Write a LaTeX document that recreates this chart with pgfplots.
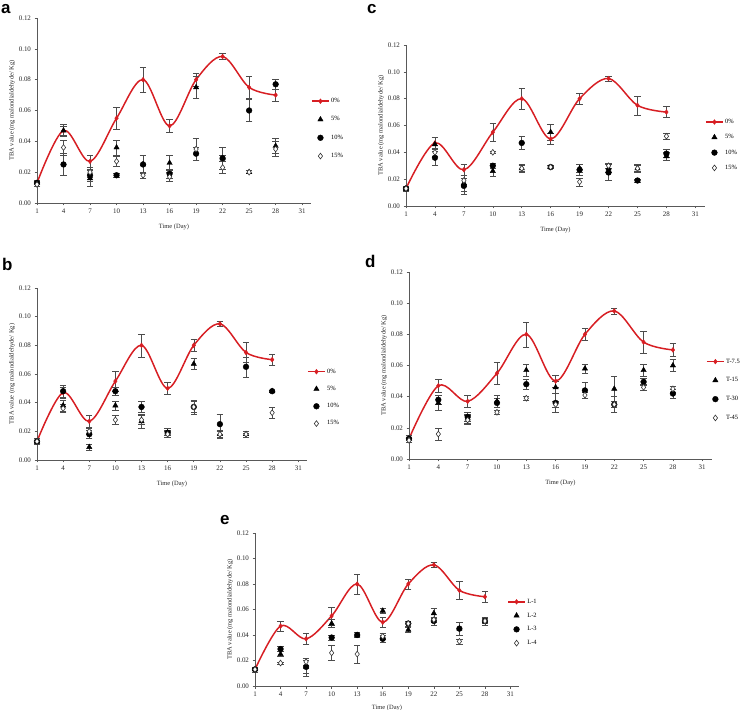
\documentclass[border=0pt]{standalone}
\usepackage{fontspec}
\setmainfont{Liberation Serif}
\newfontfamily\labfont{Liberation Sans}
\usepackage{pgfplots}
\usepackage{pgfplotstable}
\pgfplotsset{compat=1.18}
\definecolor{myred}{RGB}{215,30,35}

% columns: day, red (0%), triangle, circle, open diamond, with errors
\pgfplotstableread{
d  r     re    t     te    c      ce    w     we
1  0.013 0.002 0.013 0.001 0.013  0.001 0.012 0.001
4  0.047 0.004 0.047 0.003 0.025  0.007 0.036 0.005
7  0.027 0.004 0.016 0.005 0.018  0.004 0.020 0.003
10 0.055 0.007 0.036 0.005 0.018  0.001 0.027 0.003
13 0.080 0.008 0.025 0.006 0.025  0.006 0.018 0.002
16 0.050 0.004 0.026 0.005 0.019  0.003 0.017 0.003
19 0.080 0.004 0.075 0.007 0.032  0.004 0.035 0.007
22 0.095 0.002 0.029 0.007 0.029  0.002 0.023 0.004
25 0.075 0.007 0.020 0.001 0.060  0.007 0.020 0.001
28 0.070 0.004 0.037 0.005 0.077  0.003 0.035 0.005
}\tA
\pgfplotstableread{
d  r     re    t     te    c      ce    w     we
1  0.013 0.002 0.013 0.001 0.013  0.001 0.013 0.001
4  0.047 0.004 0.038 0.004 0.048  0.004 0.036 0.003
7  0.027 0.004 0.009 0.002 0.018  0.003 0.020 0.002
10 0.055 0.007 0.038 0.003 0.048  0.003 0.028 0.003
13 0.080 0.008 0.027 0.005 0.037  0.004 0.028 0.003
16 0.050 0.004 0.019 0.002 0.019  0.003 0.018 0.002
19 0.080 0.004 0.067 0.004 0.037  0.005 0.037 0.004
22 0.095 0.002 0.018 0.002 0.025  0.007 0.018 0.003
25 0.075 0.007 0.018 0.002 0.065  0.007 0.018 0.001
28 0.070 0.004 0.048 0.001 0.048  0.001 0.033 0.004
}\tB
\pgfplotstableread{
d  r     re    t     te    c      ce    w     we
1  0.013 0.002 0.013 0.001 0.013  0.001 0.013 0.001
4  0.047 0.004 0.046 0.005 0.036  0.006 0.040 0.003
7  0.027 0.004 0.017 0.006 0.015  0.006 0.019 0.004
10 0.055 0.007 0.026 0.004 0.030  0.002 0.040 0.001
13 0.080 0.008 0.028 0.003 0.047  0.005 0.028 0.002
16 0.050 0.004 0.055 0.006 0.029  0.001 0.029 0.001
19 0.080 0.004 0.028 0.003 0.027  0.004 0.018 0.003
22 0.095 0.002 0.028 0.003 0.025  0.006 0.030 0.002
25 0.075 0.007 0.028 0.003 0.019  0.001 0.028 0.002
28 0.070 0.004 0.037 0.003 0.039  0.003 0.052 0.002
}\tC
\pgfplotstableread{
d  r     re    t     te    c      ce    w     we
1  0.013 0.002 0.013 0.001 0.013  0.001 0.012 0.001
4  0.047 0.004 0.036 0.005 0.038  0.003 0.016 0.004
7  0.037 0.004 0.026 0.003 0.027  0.003 0.025 0.003
10 0.055 0.007 0.037 0.004 0.036  0.003 0.030 0.001
13 0.080 0.008 0.057 0.004 0.048  0.003 0.039 0.001
16 0.050 0.004 0.046 0.004 0.036  0.006 0.035 0.002
19 0.080 0.004 0.058 0.003 0.044  0.005 0.041 0.002
22 0.095 0.002 0.045 0.008 0.035  0.005 0.035 0.002
25 0.075 0.007 0.057 0.004 0.0495 0.002 0.046 0.002
28 0.070 0.004 0.060 0.004 0.042  0.003 0.045 0.002
}\tD
\pgfplotstableread{
d  r     re    t     te    c      ce    w     we
1  0.013 0.002 0.013 0.001 0.013  0.001 0.013 0.001
4  0.047 0.004 0.025 0.002 0.029  0.002 0.018 0.001
7  0.037 0.004 0.015 0.005 0.015  0.007 0.019 0.003
10 0.055 0.007 0.049 0.003 0.038  0.002 0.026 0.006
13 0.080 0.008 0.040 0.002 0.040  0.002 0.025 0.007
16 0.050 0.004 0.059 0.002 0.037  0.003 0.039 0.002
19 0.080 0.004 0.044 0.002 0.049  0.002 0.049 0.002
22 0.095 0.002 0.057 0.004 0.051  0.003 0.052 0.002
25 0.075 0.007 0.045 0.005 0.045  0.005 0.035 0.002
28 0.070 0.004 0.051 0.003 0.051  0.003 0.051 0.002
}\tE

\pgfplotsset{
  panel/.style={
    scale only axis, anchor=south west, clip=false,
    xmin=1, xmax=32, ymin=0, ymax=0.12,
    axis lines=left,
    axis line style={-, black!65, line width=0.6pt},
    tick align=outside, major tick length=2.5bp,
    tick style={black!65, line width=0.6pt},
    xtick={1,4,7,10,13,16,19,22,25,28,31},
    ytick={0,0.02,0.04,0.06,0.08,0.10,0.12},
    yticklabel style={/pgf/number format/.cd, fixed, fixed zerofill, precision=2},
    /pgf/number format/assume math mode=true,
    tick label style={font=\fontsize{7}{8}\selectfont, black!85},
    label style={font=\fontsize{6.5}{7.5}\selectfont, black!85},
    xlabel={Time (Day)},
    ylabel={TBA value (mg malondialdehyde/ Kg)},
    xlabel style={yshift=-3bp},
    ylabel style={yshift=-3bp},
    legend cell align=left,
    legend style={draw=none, fill=none, anchor=north west, inner sep=0pt,
      font=\fontsize{6.5}{7.5}\selectfont,
      nodes={inner sep=1.5pt}},
  },
  redser/.style={myred, line width=1.5pt, smooth, tension=0.55, mark=diamond*,
    mark size=2.4, mark options={fill=myred, solid, line width=0.4pt}},
  triser/.style={only marks, mark=triangle*, mark size=3.1, black},
  cirser/.style={only marks, mark=*, mark size=2.9, black},
  diaser/.style={only marks, mark=diamond*, mark size=2.9, mark options={fill=white, draw=black!80, line width=0.6pt}},
  errs/.style={error bars/y dir=both, error bars/y explicit,
    error bars/error bar style={black!70, line width=0.5pt},
    error bars/error mark options={rotate=90, mark size=3.2, black!70, line width=0.5pt}},
}

\begin{document}
\begin{tikzpicture}
\path[use as bounding box] (0bp,0bp) rectangle (746bp,710bp);

% panel a
\begin{axis}[panel, at={(37bp,507bp)}, width=274bp, height=185bp,
  legend style={at={(1.0,0.575)}, row sep=9.5bp}]
\addplot[redser, errs] table[x=d,y=r,y error=re]{\tA};
\addplot[triser, errs] table[x=d,y=t,y error=te]{\tA};
\addplot[cirser, errs] table[x=d,y=c,y error=ce]{\tA};
\addplot[diaser, errs] table[x=d,y=w,y error=we]{\tA};
\legend{0\%, 5\%, 10\%, 15\%}
\end{axis}

% panel c
\begin{axis}[panel, at={(406bp,504bp)}, width=299bp, height=161bp,
  legend style={at={(1.0,0.55)}, row sep=6.5bp}]
\addplot[redser, errs] table[x=d,y=r,y error=re]{\tC};
\addplot[triser, errs] table[x=d,y=t,y error=te]{\tC};
\addplot[cirser, errs] table[x=d,y=c,y error=ce]{\tC};
\addplot[diaser, errs] table[x=d,y=w,y error=we]{\tC};
\legend{0\%, 5\%, 10\%, 15\%}
\end{axis}

% panel b
\begin{axis}[panel, at={(37bp,250bp)}, width=270bp, height=172bp,
  legend style={at={(1.0,0.54)}, row sep=8.5bp}]
\addplot[redser, errs] table[x=d,y=r,y error=re]{\tB};
\addplot[triser, errs] table[x=d,y=t,y error=te]{\tB};
\addplot[cirser, errs] table[x=d,y=c,y error=ce]{\tB};
\addplot[diaser, errs] table[x=d,y=w,y error=we]{\tB};
\legend{0\%, 5\%, 10\%, 15\%}
\end{axis}

% panel d
\begin{axis}[panel, at={(409bp,251bp)}, width=303bp, height=187bp,
  legend style={at={(0.98,0.545)}, row sep=10bp}]
\addplot[redser, errs] table[x=d,y=r,y error=re]{\tD};
\addplot[triser, errs] table[x=d,y=t,y error=te]{\tD};
\addplot[cirser, errs] table[x=d,y=c,y error=ce]{\tD};
\addplot[diaser, errs] table[x=d,y=w,y error=we]{\tD};
\legend{T-7.5, T-15, T-30, T-45}
\end{axis}

% panel e
\begin{axis}[panel, at={(255bp,24bp)}, width=264bp, height=153bp,
  xlabel style={yshift=2bp},
  legend style={at={(0.955,0.58)}, row sep=5bp}]
\addplot[redser, errs] table[x=d,y=r,y error=re]{\tE};
\addplot[triser, errs] table[x=d,y=t,y error=te]{\tE};
\addplot[cirser, errs] table[x=d,y=c,y error=ce]{\tE};
\addplot[diaser, errs] table[x=d,y=w,y error=we]{\tE};
\legend{L-1, L-2, L-3, L-4}
\end{axis}

% panel letters
\begin{scope}[every node/.style={anchor=north west, inner sep=0pt,
    font=\labfont\bfseries\fontsize{17}{17}\selectfont}]
\node at (1bp,706bp) {a};
\node at (2bp,452bp) {b};
\node at (367bp,706bp) {c};
\node at (365bp,455bp) {d};
\node at (220bp,195bp) {e};
\end{scope}
\end{tikzpicture}
\end{document}
